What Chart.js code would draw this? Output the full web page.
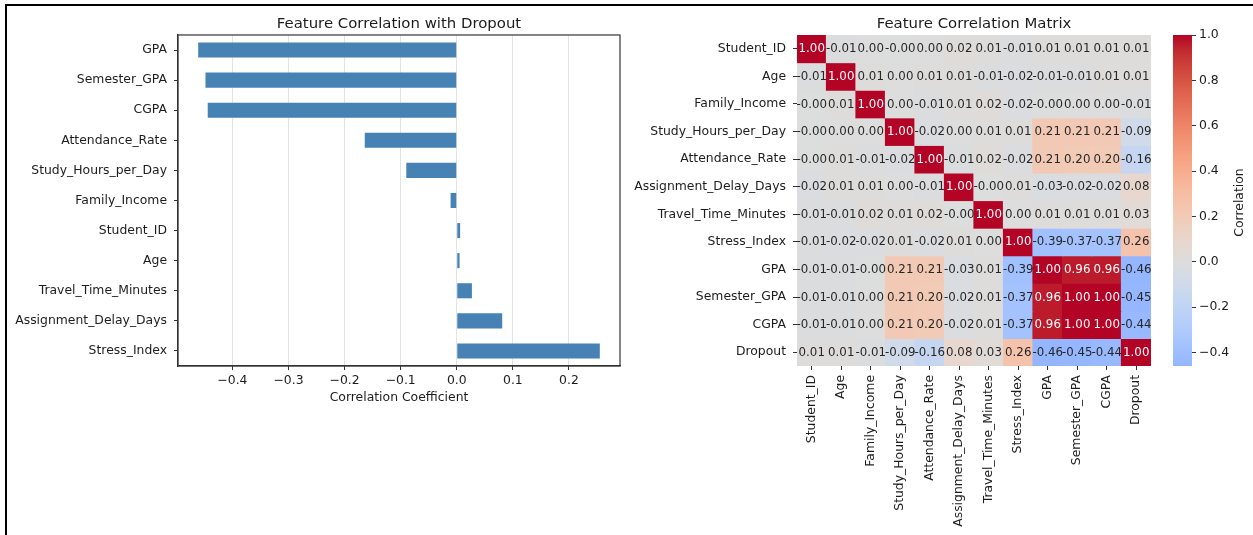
<!DOCTYPE html>
<html>
<head>
<meta charset="utf-8">
<script src="https://cdn.jsdelivr.net/npm/chart.js@4.4.1/dist/chart.umd.min.js"></script>
<style>
  html, body { margin: 0; padding: 0; background: #fff; overflow: hidden; width: 1253px; height: 535px; }
  #frame { position: absolute; left: 5px; top: 4px; width: 1248px; height: 531px;
           border-top: 2px solid #000; border-left: 2px solid #000; box-sizing: border-box; }
  canvas { position: absolute; top: 0; }
</style>
</head>
<body>
<div id="frame"></div>
<canvas id="barChart" style="left:0px;width:798px;height:535px" width="798" height="535"></canvas>
<canvas id="heatChart" style="left:600px;width:748px;height:535px" width="748" height="535"></canvas>
<canvas id="cbarChart" style="left:1150px;width:103px;height:535px" width="103" height="535"></canvas>
<script>
// ---- Correlation with Dropout (sorted) ----
const barFeatures = ['GPA', 'Semester_GPA', 'CGPA', 'Attendance_Rate', 'Study_Hours_per_Day',
  'Family_Income', 'Student_ID', 'Age', 'Travel_Time_Minutes', 'Assignment_Delay_Days', 'Stress_Index'];
const dropoutCorr = [-0.461, -0.448, -0.444, -0.164, -0.090, -0.011, 0.006, 0.005, 0.027, 0.081, 0.255];
const barTickValues = [-0.4, -0.3, -0.2, -0.1, 0.0, 0.1, 0.2];

// ---- Correlation matrix ----
const features = ['Student_ID', 'Age', 'Family_Income', 'Study_Hours_per_Day', 'Attendance_Rate',
  'Assignment_Delay_Days', 'Travel_Time_Minutes', 'Stress_Index', 'GPA', 'Semester_GPA', 'CGPA', 'Dropout'];
const rowStudentID    = [1.00, -0.01, 0.00, -0.003, 0.00, 0.02, 0.01, -0.01, 0.01, 0.01, 0.01, 0.01];
const rowAge          = [-0.01, 1.00, 0.01, 0.00, 0.01, 0.01, -0.01, -0.02, -0.01, -0.01, 0.01, 0.01];
const rowFamilyIncome = [-0.003, 0.01, 1.00, 0.00, -0.01, 0.01, 0.02, -0.02, -0.003, 0.00, 0.00, -0.01];
const rowStudyHours   = [-0.003, 0.00, 0.00, 1.00, -0.02, 0.00, 0.01, 0.01, 0.21, 0.21, 0.21, -0.09];
const rowAttendance   = [-0.003, 0.01, -0.01, -0.02, 1.00, -0.01, 0.02, -0.02, 0.21, 0.20, 0.20, -0.16];
const rowAssignment   = [-0.02, 0.01, 0.01, 0.00, -0.01, 1.00, -0.003, 0.01, -0.03, -0.02, -0.02, 0.08];
const rowTravel       = [-0.01, -0.01, 0.02, 0.01, 0.02, -0.003, 1.00, 0.00, 0.01, 0.01, 0.01, 0.03];
const rowStress       = [-0.01, -0.02, -0.02, 0.01, -0.02, 0.01, 0.00, 1.00, -0.39, -0.37, -0.37, 0.26];
const rowGPA          = [-0.01, -0.01, -0.003, 0.21, 0.21, -0.03, 0.01, -0.39, 1.00, 0.96, 0.96, -0.46];
const rowSemesterGPA  = [-0.01, -0.01, 0.00, 0.21, 0.20, -0.02, 0.01, -0.37, 0.96, 1.00, 1.00, -0.45];
const rowCGPA         = [-0.01, -0.01, 0.00, 0.21, 0.20, -0.02, 0.01, -0.37, 0.96, 1.00, 1.00, -0.44];
const rowDropout      = [0.01, 0.01, -0.01, -0.09, -0.16, 0.08, 0.03, 0.26, -0.46, -0.45, -0.44, 1.00];
const corrRows = [rowStudentID, rowAge, rowFamilyIncome, rowStudyHours, rowAttendance, rowAssignment,
  rowTravel, rowStress, rowGPA, rowSemesterGPA, rowCGPA, rowDropout];
const colorbarTicks = [-0.4, -0.2, 0.0, 0.2, 0.4, 0.6, 0.8, 1.0];

// ---- styling ----
const FONT = "'DejaVu Sans', sans-serif";
const TEXT = '#1c1c1c';
const AXIS = '#333333';
const tickFont = { family: FONT, size: 12.4 };
const titleFont = { family: FONT, size: 14.9, weight: 'normal' };
const minusSign = s => s.replace('-', '\u2212');

// coolwarm colormap control points (t, r, g, b)
const coolwarm = [
  [0.0, 0.2298057, 0.298717966, 0.753683153], [0.03125, 0.26623388, 0.353094838, 0.801466763],
  [0.0625, 0.30386891, 0.406535296, 0.84495867], [0.09375, 0.342804478, 0.458757618, 0.883725899],
  [0.125, 0.38301334, 0.50941904, 0.917387822], [0.15625, 0.424369608, 0.558148092, 0.945619588],
  [0.1875, 0.46666708, 0.604562568, 0.968154911], [0.21875, 0.509635204, 0.648280772, 0.98478814],
  [0.25, 0.552953156, 0.688929332, 0.995375608], [0.28125, 0.596262162, 0.726149107, 0.999836203],
  [0.3125, 0.639176211, 0.759599947, 0.998151185], [0.34375, 0.681291281, 0.788964712, 0.990363227],
  [0.375, 0.722193294, 0.813952739, 0.976574709], [0.40625, 0.761464949, 0.834302879, 0.956945269],
  [0.4375, 0.798691636, 0.849786142, 0.931688648], [0.46875, 0.833466556, 0.860207984, 0.901068838],
  [0.5, 0.865395197, 0.86541021, 0.865395561], [0.53125, 0.897787179, 0.848937047, 0.820880546],
  [0.5625, 0.924127593, 0.827384882, 0.774508472], [0.59375, 0.944468518, 0.800927443, 0.726736146],
  [0.625, 0.958852946, 0.769767752, 0.678007945], [0.65625, 0.96732803, 0.734132809, 0.628751763],
  [0.6875, 0.969954137, 0.694266682, 0.579375448], [0.71875, 0.966811177, 0.650421156, 0.530263762],
  [0.75, 0.958003065, 0.602842431, 0.481775914], [0.78125, 0.943660866, 0.551750968, 0.434243684],
  [0.8125, 0.923944917, 0.49730856, 0.387970225], [0.84375, 0.89904617, 0.439559467, 0.343229596],
  [0.875, 0.869186849, 0.378313092, 0.300267182], [0.90625, 0.834620542, 0.312874446, 0.259301199],
  [0.9375, 0.795631745, 0.24128379, 0.220525627], [0.96875, 0.752534934, 0.157246067, 0.184115123],
  [1.0, 0.705673158, 0.01555616, 0.150232812]
];
function coolwarmRGB(t) {
  t = Math.max(0, Math.min(1, t));
  for (let i = 1; i < coolwarm.length; i++) {
    if (t <= coolwarm[i][0]) {
      const a = coolwarm[i - 1], b = coolwarm[i];
      const f = (t - a[0]) / (b[0] - a[0]);
      return [1, 2, 3].map(k => a[k] + (b[k] - a[k]) * f);
    }
  }
  return coolwarm[coolwarm.length - 1].slice(1);
}
// diverging scale centred on zero, spanning -1..1
const valueRGB = v => coolwarmRGB((v + 1) / 2);
const toCss = rgb => `rgb(${rgb.map(c => Math.round(c * 255)).join(',')})`;
const cellColor = v => toCss(valueRGB(v));
function luminance(rgb) {
  const lin = rgb.map(c => c <= 0.03928 ? c / 12.92 : Math.pow((c + 0.055) / 1.055, 2.4));
  return 0.2126 * lin[0] + 0.7152 * lin[1] + 0.0722 * lin[2];
}
const cellTextColor = v => luminance(valueRGB(v)) > 0.408 ? '#262626' : '#ffffff';

const allValues = corrRows.flat();
const vmin = Math.min(...allValues);
const vmax = Math.max(...allValues);

// four-sided axes frame around the plot area
const frame = {
  id: 'frame',
  afterDraw(chart) {
    const { ctx, chartArea: a } = chart;
    ctx.save();
    ctx.strokeStyle = AXIS;
    ctx.lineWidth = 1.2;
    ctx.strokeRect(a.left, a.top, a.right - a.left, a.bottom - a.top);
    ctx.restore();
  }
};

// ---------------- bar chart ----------------
new Chart(document.getElementById('barChart'), {
  type: 'bar',
  data: {
    labels: barFeatures,
    datasets: [{
      data: dropoutCorr,
      backgroundColor: 'steelblue',
      borderWidth: 0,
      barPercentage: 0.5,
      categoryPercentage: 1
    }]
  },
  options: {
    indexAxis: 'y',
    responsive: false,
    animation: false,
    layout: { padding: { left: 0, right: 0, top: 0, bottom: 129.6 } },
    plugins: {
      legend: { display: false },
      tooltip: { enabled: false },
      title: {
        display: true, text: 'Feature Correlation with Dropout', color: TEXT,
        font: titleFont, padding: { top: 15, bottom: 2.1 }
      }
    },
    scales: {
      x: {
        type: 'linear', min: -0.497, max: 0.291,
        afterBuildTicks: s => { s.ticks = barTickValues.map(v => ({ value: v })); },
        afterFit: s => { s.height = 39.4; },
        ticks: { callback: v => minusSign(Number(v).toFixed(1)), color: TEXT, font: tickFont, padding: 3 },
        grid: { color: 'rgba(176,176,176,0.35)', tickColor: AXIS, tickLength: 4, lineWidth: 1 },
        border: { display: true, color: AXIS, width: 1.2 },
        title: { display: true, text: 'Correlation Coefficient', color: TEXT, font: tickFont, padding: 0 }
      },
      y: {
        afterFit: s => { s.width = 178; },
        ticks: { color: TEXT, font: tickFont, padding: 7 },
        grid: { drawOnChartArea: false, offset: false, tickColor: AXIS, tickLength: 4 },
        border: { display: true, color: AXIS, width: 1.2 }
      },
      yPad: {
        type: 'linear', position: 'right', display: true,
        grid: { display: false }, ticks: { display: false }, border: { display: false },
        afterFit: s => { s.width = 178; }
      }
    }
  },
  plugins: [frame]
});

// ---------------- heatmap ----------------
const cellLabels = {
  id: 'cellLabels',
  afterDatasetsDraw(chart) {
    const ctx = chart.ctx;
    ctx.save();
    ctx.font = `11.8px ${FONT}`;
    ctx.textAlign = 'center';
    ctx.textBaseline = 'middle';
    chart.data.datasets.forEach((ds, r) => {
      chart.getDatasetMeta(r).data.forEach((bar, c) => {
        const v = corrRows[r][c];
        const p = bar.getCenterPoint();
        ctx.fillStyle = cellTextColor(v);
        ctx.fillText(v.toFixed(2), p.x, p.y + 0.5);
      });
    });
    ctx.restore();
  }
};

new Chart(document.getElementById('heatChart'), {
  type: 'bar',
  data: {
    labels: features,
    datasets: corrRows.map((row, r) => ({
      label: features[r],
      data: features.map(() => [r, r + 1]),
      backgroundColor: row.map(cellColor),
      borderWidth: 0,
      inflateAmount: 0.6,
      barPercentage: 1,
      categoryPercentage: 1,
      grouped: false
    }))
  },
  options: {
    responsive: false,
    animation: false,
    layout: { padding: 0 },
    plugins: {
      legend: { display: false },
      tooltip: { enabled: false },
      title: {
        display: true, text: 'Feature Correlation Matrix', color: TEXT,
        font: titleFont, padding: { top: 15, bottom: 2.1 }
      }
    },
    scales: {
      x: {
        type: 'category',
        afterFit: s => { s.height = 169; },
        ticks: { autoSkip: false, minRotation: 90, maxRotation: 90, color: TEXT, font: tickFont, padding: 5 },
        grid: { drawOnChartArea: false, offset: false, tickColor: AXIS, tickLength: 4 },
        border: { display: false }
      },
      y: {
        type: 'linear', reverse: true, min: 0, max: features.length,
        afterBuildTicks: s => { s.ticks = features.map((_, i) => ({ value: i + 0.5 })); },
        afterFit: s => { s.width = 197; },
        ticks: { callback: (v, i) => features[i], color: TEXT, font: tickFont, padding: 7 },
        grid: { drawOnChartArea: false, tickColor: AXIS, tickLength: 4 },
        border: { display: false }
      },
      yPad: {
        type: 'linear', position: 'right', display: true,
        grid: { display: false }, ticks: { display: false }, border: { display: false },
        afterFit: s => { s.width = 197; }
      }
    }
  },
  plugins: [cellLabels]
});

// ---------------- colorbar ----------------
function colorbarFill(chart) {
  const y = chart.scales.y;
  if (!chart.chartArea || !y) return cellColor(0);
  const y0 = y.getPixelForValue(vmin), y1 = y.getPixelForValue(vmax);
  const g = chart.ctx.createLinearGradient(0, y0, 0, y1);
  for (let i = 0; i <= 64; i++) {
    const t = i / 64;
    g.addColorStop(t, cellColor(vmin + t * (vmax - vmin)));
  }
  return g;
}
const colorbarLabel = {
  id: 'colorbarLabel',
  afterDraw(chart) {
    const { ctx, chartArea: a } = chart;
    const text = chart.options.scales.y.title.text;
    ctx.save();
    ctx.translate(90, (a.top + a.bottom) / 2 + 2);
    ctx.rotate(-Math.PI / 2);
    ctx.font = `12.4px ${FONT}`;
    ctx.fillStyle = TEXT;
    ctx.textAlign = 'center';
    ctx.textBaseline = 'middle';
    ctx.fillText(text, 0, 0);
    ctx.restore();
  }
};

new Chart(document.getElementById('cbarChart'), {
  type: 'bar',
  data: {
    labels: ['Correlation'],
    datasets: [{
      data: [[vmin, vmax]],
      backgroundColor: ctx => colorbarFill(ctx.chart),
      borderWidth: 0,
      barPercentage: 1,
      categoryPercentage: 1
    }]
  },
  options: {
    responsive: false,
    animation: false,
    layout: { padding: { left: 23, right: 0, top: 35, bottom: 169 } },
    plugins: { legend: { display: false }, tooltip: { enabled: false } },
    scales: {
      x: { display: false },
      y: {
        position: 'right', min: vmin, max: vmax,
        afterBuildTicks: s => { s.ticks = colorbarTicks.map(v => ({ value: v })); },
        afterFit: s => { s.width = 61; },
        ticks: { callback: v => minusSign(Number(v).toFixed(1)), color: TEXT, font: tickFont, padding: 3 },
        grid: { drawOnChartArea: false, tickColor: AXIS, tickLength: 4 },
        border: { display: false },
        title: { display: false, text: 'Correlation' }
      }
    }
  },
  plugins: [colorbarLabel]
});
</script>
</body>
</html>
